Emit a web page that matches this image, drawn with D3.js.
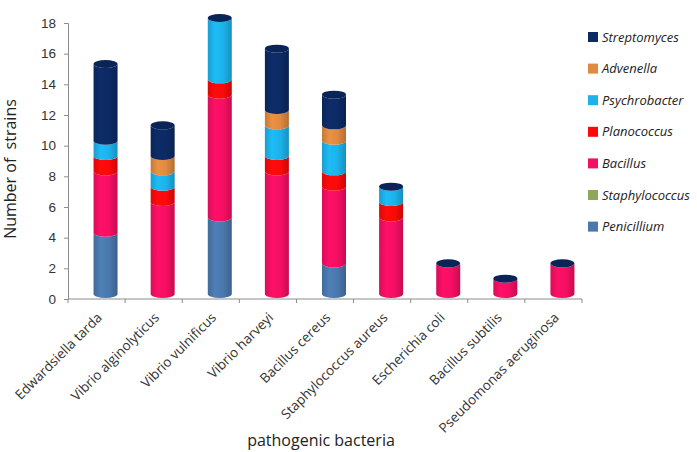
<!DOCTYPE html>
<html>
<head>
<meta charset="utf-8">
<script src="https://cdn.jsdelivr.net/npm/d3@7"></script>
<style>
  body { margin: 0; background: #fff; }
  svg { font-family: "Open Sans", "Liberation Sans", sans-serif; }
</style>
</head>
<body>
<svg id="chart" width="697" height="452"></svg>
<script>
const categories = ["Edwardsiella tarda", "Vibrio alginolyticus", "Vibrio vulnificus", "Vibrio harveyi",
    "Bacillus cereus", "Staphylococcus aureus", "Escherichia coli", "Bacillus subtilis", "Pseudomonas aeruginosa"];
const penicillium    = [4, 0, 5, 0, 2, 0, 0, 0, 0];
const staphylococcus = [0, 0, 0, 0, 0, 0, 0, 0, 0];
const bacillus       = [4, 6, 8, 8, 5, 5, 2, 1, 2];
const planococcus    = [1, 1, 1, 1, 1, 1, 0, 0, 0];
const psychrobacter  = [1, 1, 4, 2, 2, 1, 0, 0, 0];
const advenella      = [0, 1, 0, 1, 1, 0, 0, 0, 0];
const streptomyces   = [5, 2, 0, 4, 2, 0, 0, 0, 0];
const yTicks = [0, 2, 4, 6, 8, 10, 12, 14, 16, 18];

// bottom to top
const seriesNames = ["Penicillium", "Staphylococcus", "Bacillus", "Planococcus", "Psychrobacter", "Advenella", "Streptomyces"];
const seriesValues = [penicillium, staphylococcus, bacillus, planococcus, psychrobacter, advenella, streptomyces];
const seriesColors = ["#4a78ad", "#8ea858", "#f50f63", "#fa0a0a", "#1cb2ea", "#de8a40", "#0c2a64"];

const rows = categories.map((c, i) => {
    const r = { name: c };
    seriesNames.forEach((s, j) => r[s] = seriesValues[j][i]);
    return r;
});

const svg = d3.select("#chart");
const x = d3.scaleBand().domain(categories).range([68, 582]);
const y = d3.scaleLinear().domain([0, 18]).range([299, 23]);

// 3d offset of the cylinders
const dx = 9, dy = -5, bw = 24, ry = 4;

const defs = svg.append("defs");
seriesColors.forEach((col, i) => {
    const g = defs.append("linearGradient").attr("id", "grad" + i)
        .attr("x1", "0%").attr("x2", "100%").attr("y1", "0%").attr("y2", "0%");
    const c = d3.color(col);
    g.append("stop").attr("offset", "0%").attr("stop-color", c.darker(0.35));
    g.append("stop").attr("offset", "30%").attr("stop-color", c.brighter(0.15));
    g.append("stop").attr("offset", "65%").attr("stop-color", c);
    g.append("stop").attr("offset", "100%").attr("stop-color", c.darker(0.6));
});

// axes
const axisColor = "#8c8c8c";
const yAxis = svg.append("g").attr("transform", "translate(68,0)")
    .call(d3.axisLeft(y).tickValues(yTicks).tickSize(4).tickPadding(8));
yAxis.select(".domain").attr("stroke", axisColor);
yAxis.selectAll(".tick line").attr("stroke", axisColor);
yAxis.selectAll(".tick text").attr("font-size", 13.5).attr("fill", "#333");

svg.append("line").attr("x1", x.range()[0]).attr("x2", x.range()[1])
    .attr("y1", y(0)).attr("y2", y(0)).attr("stroke", axisColor);
svg.selectAll(".xtick").data(categories.concat(["_end"])).enter().append("line")
    .attr("x1", d => d === "_end" ? x.range()[1] : x(d))
    .attr("x2", d => d === "_end" ? x.range()[1] : x(d))
    .attr("y1", y(0)).attr("y2", y(0) + 4).attr("stroke", axisColor);

svg.selectAll(".xlab").data(categories).enter().append("text")
    .attr("transform", d => `translate(${x(d) + x.bandwidth() / 2 + 3},${y(0) + 16}) rotate(-45)`)
    .attr("text-anchor", "end").attr("dy", "0.35em")
    .attr("font-size", 13.5).attr("fill", "#333")
    .text(d => d);

// cylinders
const stacked = d3.stack().keys(seriesNames)(rows);

function slice(cx, yTop, yBot) {
    const l = cx - bw / 2, r = cx + bw / 2;
    return `M${l},${yTop} A${bw / 2},${ry} 0 0 0 ${r},${yTop} L${r},${yBot} A${bw / 2},${ry} 0 0 1 ${l},${yBot} Z`;
}

stacked.forEach((layer, j) => {
    svg.append("g").selectAll("path").data(layer.filter(d => d[1] > d[0])).enter().append("path")
        .attr("d", d => {
            const cx = x(d.data.name) + x.bandwidth() / 2 + dx;
            return slice(cx, y(d[1]) + dy, y(d[0]) + dy);
        })
        .attr("fill", `url(#grad${j})`);
});

const totals = rows.map(r => d3.sum(seriesNames, s => r[s]));
svg.append("g").selectAll("ellipse").data(categories).enter().append("ellipse")
    .attr("cx", (d, i) => x(d) + x.bandwidth() / 2 + dx)
    .attr("cy", (d, i) => y(totals[i]) + dy)
    .attr("rx", bw / 2).attr("ry", ry)
    .attr("fill", "#0a2458");

// axis titles
svg.append("text").attr("transform", `translate(16,169) rotate(-90)`)
    .attr("text-anchor", "middle").attr("font-size", 16).attr("fill", "#222")
    .style("white-space", "pre")
    .text("Number of  strains");
svg.append("text").attr("x", 321).attr("y", 446)
    .attr("text-anchor", "middle").attr("font-size", 16).attr("fill", "#222")
    .text("pathogenic bacteria");

// legend (top series first)
const legend = svg.append("g");
const legendItems = seriesNames.map((s, i) => ({ name: s, color: seriesColors[i] })).reverse();
legendItems.forEach((d, i) => {
    const ly = 37 + i * 31.6;
    legend.append("rect").attr("x", 588).attr("y", ly - 5).attr("width", 10).attr("height", 10)
        .attr("fill", d.color);
    legend.append("text").attr("x", 602).attr("y", ly).attr("dy", "0.35em")
        .attr("font-size", 13).attr("font-style", "italic").attr("fill", "#222")
        .text(d.name);
});
</script>
</body>
</html>
